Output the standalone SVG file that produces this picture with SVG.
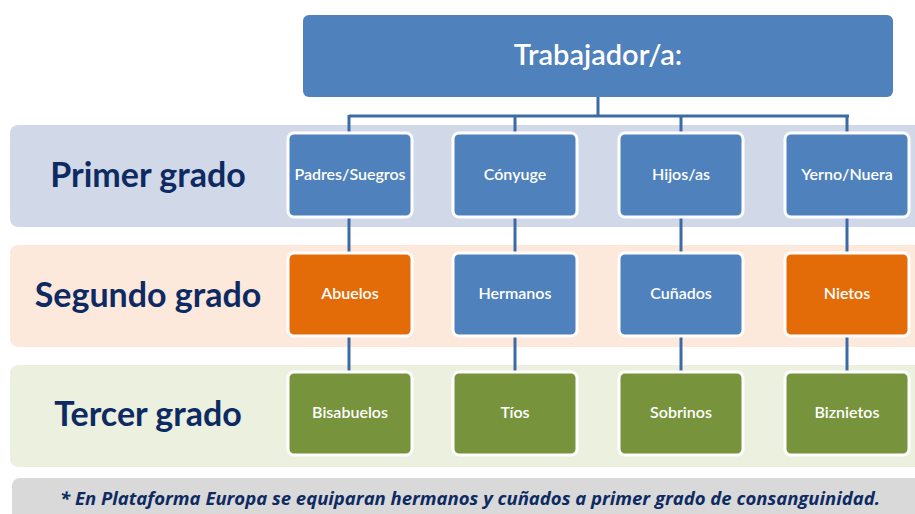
<svg xmlns="http://www.w3.org/2000/svg" width="915" height="514" viewBox="0 0 915 514">
<style>
.band{stroke:none}
.node rect{stroke:#fff;stroke-width:3}
.blue{fill:#4f81bd}
.orange{fill:#e36c09}
.green{fill:#77933c}
.nt{font-family:Lato,"Open Sans",sans-serif;font-weight:600;font-size:16px;fill:#fff;text-anchor:middle}
.lbl{font-family:Lato,"Open Sans",sans-serif;font-weight:700;font-size:34px;fill:#0e2a62;text-anchor:middle}
.conn{stroke:#3c6aa5;stroke-width:3;fill:none}
</style>
<rect width="915" height="514" fill="#fff"/>
<g id="bands">
<rect class="band" x="10" y="125" width="915" height="102" rx="8" fill="#d1d9e8"/>
<rect class="band" x="10" y="245" width="915" height="102" rx="8" fill="#fde9db"/>
<rect class="band" x="10" y="365" width="915" height="102" rx="8" fill="#ebf0df"/>
<rect class="band" x="12" y="478" width="915" height="45" rx="8" fill="#d9d9d9"/>
</g>
<g id="labels">
<text class="lbl" x="148" y="187">Primer grado</text>
<text class="lbl" x="148" y="307">Segundo grado</text>
<text class="lbl" x="148" y="426">Tercer grado</text>
</g>
<g id="connectors">
<path class="conn" d="M598 97V116M349 116H849M349 115V132M515 115V132M681 115V132M847 115V132"/>
<path class="conn" d="M349 217V253M515 217V253M681 217V253M847 217V253"/>
<path class="conn" d="M349 336V372M515 336V372M681 336V372M847 336V372"/>
</g>
<g id="trabajador" class="node">
<rect x="303" y="15" width="590" height="82" rx="6" class="blue" style="stroke:none"/>
<text x="598" y="65" font-family="Lato,'Open Sans',sans-serif" font-weight="600" font-size="29" fill="#fff" text-anchor="middle">Trabajador/a:</text>
</g>
<g id="padres" class="node"><rect x="288" y="133" width="124" height="84" rx="6" class="blue"/><text class="nt" x="350" y="180">Padres/Suegros</text></g>
<g id="conyuge" class="node"><rect x="453" y="133" width="124" height="84" rx="6" class="blue"/><text class="nt" x="515" y="180">Cónyuge</text></g>
<g id="hijos" class="node"><rect x="619" y="133" width="124" height="84" rx="6" class="blue"/><text class="nt" x="681" y="180">Hijos/as</text></g>
<g id="yerno" class="node"><rect x="785" y="133" width="124" height="84" rx="6" class="blue"/><text class="nt" x="847" y="180">Yerno/Nuera</text></g>
<g id="abuelos" class="node"><rect x="288" y="253" width="124" height="83" rx="6" class="orange"/><text class="nt" x="350" y="299">Abuelos</text></g>
<g id="hermanos" class="node"><rect x="453" y="253" width="124" height="83" rx="6" class="blue"/><text class="nt" x="515" y="299">Hermanos</text></g>
<g id="cunados" class="node"><rect x="619" y="253" width="124" height="83" rx="6" class="blue"/><text class="nt" x="681" y="299">Cuñados</text></g>
<g id="nietos" class="node"><rect x="785" y="253" width="124" height="83" rx="6" class="orange"/><text class="nt" x="847" y="299">Nietos</text></g>
<g id="bisabuelos" class="node"><rect x="288" y="372" width="124" height="83" rx="6" class="green"/><text class="nt" x="350" y="418">Bisabuelos</text></g>
<g id="tios" class="node"><rect x="453" y="372" width="124" height="83" rx="6" class="green"/><text class="nt" x="515" y="418">Tíos</text></g>
<g id="sobrinos" class="node"><rect x="619" y="372" width="124" height="83" rx="6" class="green"/><text class="nt" x="681" y="418">Sobrinos</text></g>
<g id="biznietos" class="node"><rect x="785" y="372" width="124" height="83" rx="6" class="green"/><text class="nt" x="847" y="418">Biznietos</text></g>
<g id="footer">
<text x="470" y="505" font-family="'Open Sans',Lato,sans-serif" font-weight="700" font-style="italic" font-size="18.5" fill="#0e2a62" text-anchor="middle">* En Plataforma Europa se equiparan hermanos y cuñados a primer grado de consanguinidad.</text>
</g>
</svg>
